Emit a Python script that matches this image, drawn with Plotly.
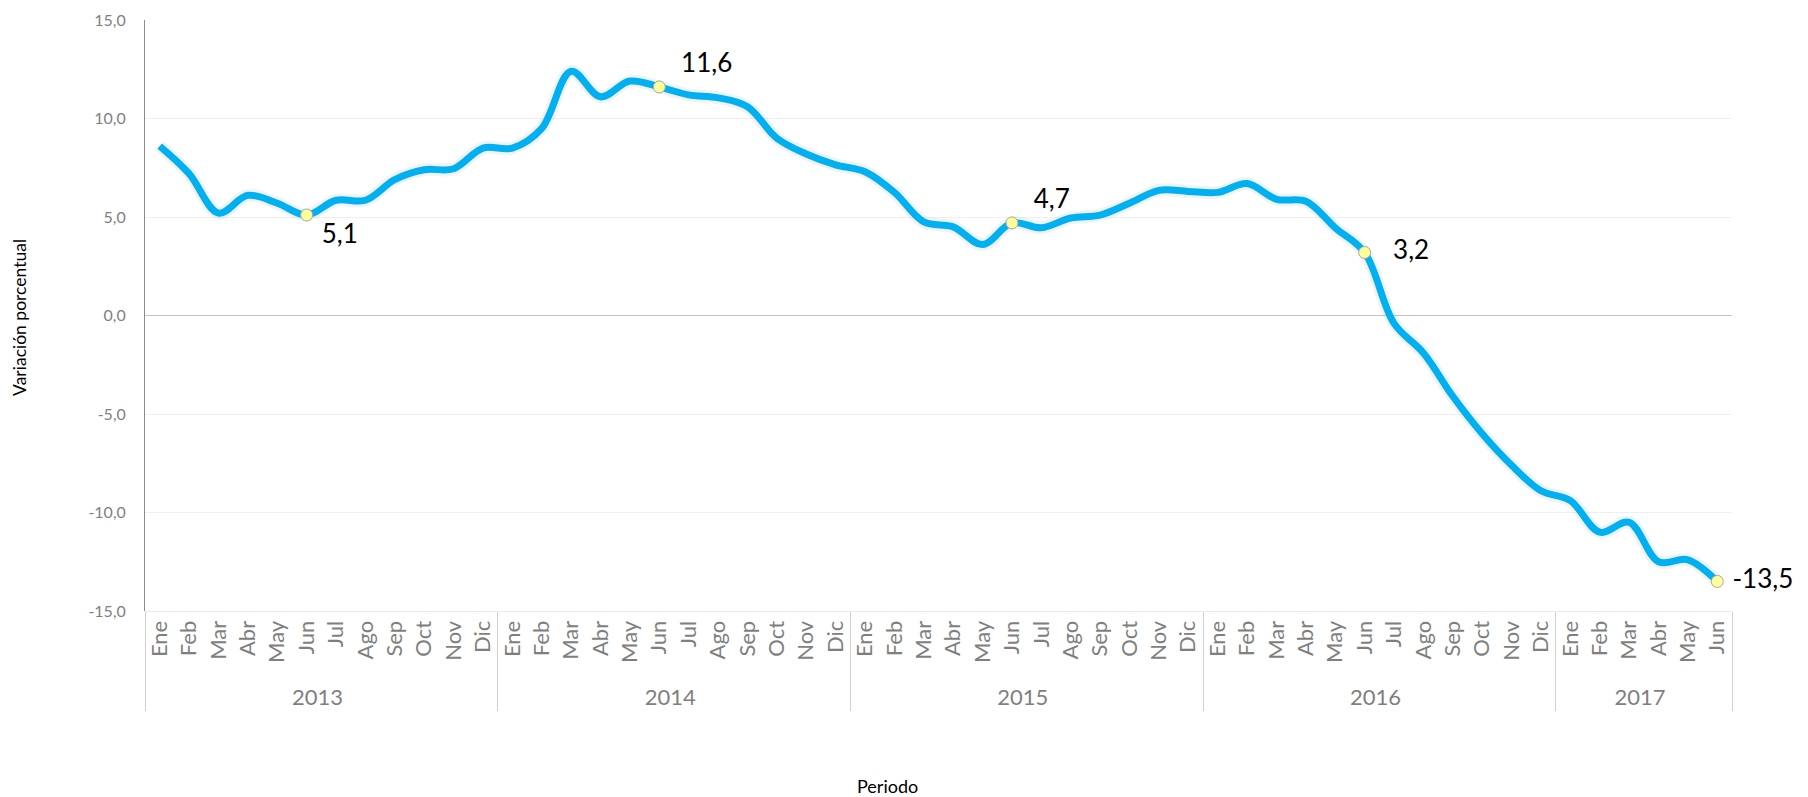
import plotly.graph_objects as go

months = ["Ene", "Feb", "Mar", "Abr", "May", "Jun", "Jul", "Ago", "Sep", "Oct", "Nov", "Dic"]
years = ["2013", "2014", "2015", "2016", "2017"]
months_per_year = [12, 12, 12, 12, 6]

values = [
    8.6, 7.2, 5.2, 6.1, 5.7, 5.1, 5.85, 5.85, 6.9, 7.4, 7.45, 8.5,      # 2013
    8.5, 9.5, 12.4, 11.1, 11.9, 11.6, 11.2, 11.05, 10.6, 9.0, 8.2, 7.65,  # 2014
    7.3, 6.25, 4.75, 4.5, 3.6, 4.7, 4.45, 4.95, 5.1, 5.7, 6.35, 6.3,    # 2015
    6.25, 6.7, 5.9, 5.8, 4.45, 3.2, -0.4, -1.9, -4.1, -6.0, -7.6, -8.9,  # 2016
    -9.4, -11.0, -10.5, -12.5, -12.4, -13.5,                            # 2017
]

y_ticks = [-15, -10, -5, 0, 5, 10, 15]

highlight_idx = [5, 17, 29, 41, 53]
highlight_pos = ["bottom right", "top right", "top right", "middle right", "middle right"]
highlight_pad = [" ", "  ", "  ", "   ", " "]

x_year = []
x_month = []
for y, n in zip(years, months_per_year):
    x_year += [y] * n
    x_month += months[:n]


def fmt(v):
    return f"{v:.1f}".replace(".", ",")


font_family = "Lato, Open Sans, sans-serif"

fig = go.Figure()

# soft shadow under the line
fig.add_trace(go.Scatter(
    x=[x_year, x_month], y=values, mode="lines",
    line=dict(color="rgba(60,110,170,0.08)", width=13, shape="spline", smoothing=1.0),
    hoverinfo="skip", showlegend=False,
))
fig.add_trace(go.Scatter(
    x=[x_year, x_month], y=values, mode="lines",
    line=dict(color="#00B0F0", width=7, shape="spline", smoothing=1.0),
    showlegend=False,
))
fig.add_trace(go.Scatter(
    x=[[x_year[i] for i in highlight_idx], [x_month[i] for i in highlight_idx]],
    y=[values[i] for i in highlight_idx],
    mode="markers+text",
    marker=dict(size=12, color="#FFFF99", line=dict(color="#A6A6A6", width=1)),
    text=[p + fmt(values[i]) for p, i in zip(highlight_pad, highlight_idx)],
    textposition=highlight_pos,
    textfont=dict(family=font_family, size=26, color="#000000"),
    cliponaxis=False,
    showlegend=False,
))

# the page adds an 8px body margin; size the figure so the plot area lands where it should
fig.update_layout(
    width=1800, height=789,
    margin=dict(l=137, r=76, t=12, b=186),
    paper_bgcolor="white", plot_bgcolor="white",
    font=dict(family=font_family),
    xaxis=dict(
        type="multicategory",
        range=[-0.5, len(values) - 0.5],
        tickangle=-90,
        tickfont=dict(size=22, color="#7F7F7F"),
        showdividers=True, dividercolor="#D0D0D0", dividerwidth=1,
        showline=True, linecolor="#EAEAEA", linewidth=1,
        showgrid=False, ticks="", automargin=False,
    ),
    yaxis=dict(
        range=[-15, 15], tickvals=y_ticks, ticktext=[fmt(v) for v in y_ticks],
        tickfont=dict(size=16, color="#7F7F7F"),
        showgrid=True, gridcolor="#EFEFEF", gridwidth=1,
        zeroline=True, zerolinecolor="#C4C4C4", zerolinewidth=1,
        showline=True, linecolor="#8C8C8C", linewidth=1,
        ticks="", ticklabelstandoff=15, automargin=False,
    ),
    annotations=[
        dict(text="Variación porcentual", xref="paper", yref="paper",
             x=-0.079, y=0.497, xanchor="center", yanchor="middle",
             textangle=-90, showarrow=False,
             font=dict(family=font_family, size=17.5, color="#000000")),
        dict(text="Periodo", xref="paper", yref="paper",
             x=0.468, y=-0.296, xanchor="center", yanchor="middle",
             showarrow=False,
             font=dict(family=font_family, size=18, color="#000000")),
    ],
)

fig.write_html("out.html")
